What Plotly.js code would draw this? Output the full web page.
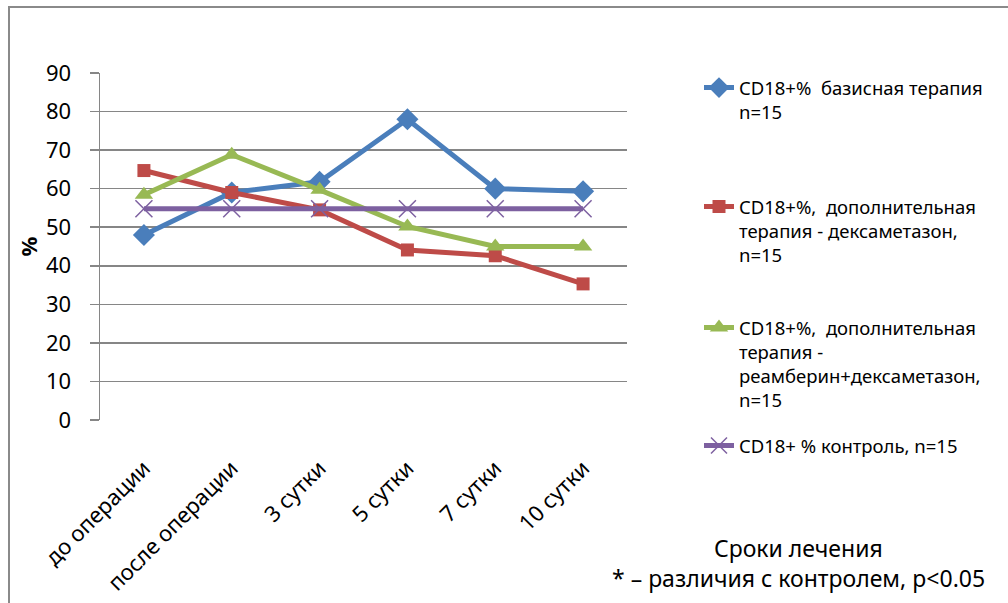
<!DOCTYPE html>
<html><head><meta charset="utf-8">
<script src="https://cdn.plot.ly/plotly-3.0.1.min.js"></script>
<style>html,body{margin:0;padding:0;background:#fff}#chart{width:1008px;height:603px}</style>
</head><body><div id="chart"></div>
<script>
var categories = ['до операции', 'после операции', '3 сутки', '5 сутки', '7 сутки', '10 сутки'];
var basic = [48, 59, 61.8, 78, 60, 59.3];
var dexa = [64.7, 59, 54.5, 44.1, 42.6, 35.3];
var reamb = [58.4, 68.8, 59.7, 50.2, 45, 45];
var control = [54.8, 54.8, 54.8, 54.8, 54.8, 54.8];
var names = [
  'CD18+%  базисная терапия<br>n=15',
  'CD18+%,  дополнительная<br>терапия - дексаметазон,<br>n=15',
  'CD18+%,  дополнительная<br>терапия -<br>реамберин+дексаметазон,<br>n=15',
  'CD18+ % контроль, n=15'
];
var yTicks = [0, 10, 20, 30, 40, 50, 60, 70, 80, 90];

var FONT = 'Noto Sans, Open Sans, sans-serif';
var L = 100, R = 627, T = 73, B = 420;
function px(x){ return (x - L) / (R - L); }
function py(y){ return (B - y) / (B - T); }

var traces = [
  {y: basic, name: names[0], color: '#4A7EBB', symbol: 'diamond', size: 17, legend: 'legend'},
  {y: dexa, name: names[1], color: '#BE4B48', symbol: 'square', size: 13, legend: 'legend2'},
  {y: reamb, name: names[2], color: '#98B954', symbol: 'triangle-up', size: 16, legend: 'legend3'},
  {y: control, name: names[3], color: '#7D60A0', symbol: 'x-thin-open', size: 17, legend: 'legend4'}
].map(function(s){
  return {
    type: 'scatter', mode: 'lines+markers', x: categories, y: s.y, name: s.name,
    legend: s.legend,
    line: {color: s.color, width: 5},
    marker: {symbol: s.symbol, size: s.size, color: s.color, line: {color: s.color, width: s.symbol === 'x-thin-open' ? 1.5 : 0}}
  };
});
var legFont = {family: FONT, size: 18.5, color: '#000'};
function leg(ytop){
  return {x: px(699), xanchor: 'left', y: py(ytop), yanchor: 'top', font: legFont,
          bgcolor: 'rgba(0,0,0,0)', valign: 'top', itemwidth: 30, tracegroupgap: 0};
}
var layout = {
  width: 1008, height: 603,
  margin: {l: L, r: 1008 - R, t: T, b: 603 - B},
  paper_bgcolor: '#fff', plot_bgcolor: '#fff',
  font: {family: FONT, color: '#000'},
  showlegend: true,
  legend: leg(69), legend2: leg(188), legend3: leg(309), legend4: leg(427),
  xaxis: {
    type: 'category', range: [-0.5, 5.5], tickangle: -45, showgrid: false,
    tickfont: {family: FONT, size: 22, color: '#000'}, ticks: '', showline: false, zeroline: false,
    ticklabelstandoff: 30, fixedrange: true
  },
  yaxis: {
    range: [0, 90], tickvals: yTicks, ticktext: yTicks.map(String),
    showgrid: true, gridcolor: '#868686', gridwidth: 1.5,
    showline: true, linecolor: '#868686', linewidth: 1.5,
    ticks: 'outside', ticklen: 9, tickcolor: '#868686', tickwidth: 1.5,
    tickfont: {family: FONT, size: 22, color: '#000'}, ticklabelstandoff: 14,
    zeroline: false,
    title: {text: '<b>%</b>', font: {family: FONT, size: 22, color: '#000'}, standoff: 2},
    fixedrange: true
  },
  shapes: [
    {type: 'rect', xref: 'paper', yref: 'paper', x0: px(9), x1: px(1100), y0: py(700), y1: py(7),
     line: {color: '#8a8a8a', width: 2}, fillcolor: 'rgba(0,0,0,0)', layer: 'below'}
  ],
  annotations: [
    {xref: 'paper', yref: 'paper', x: px(798), y: py(548), text: 'Сроки лечения', showarrow: false,
     font: {family: FONT, size: 23, color: '#000'}, xanchor: 'center', yanchor: 'middle'},
    {xref: 'paper', yref: 'paper', x: px(798), y: py(578), text: '* – различия с контролем, p<0.05', showarrow: false,
     font: {family: FONT, size: 23, color: '#000'}, xanchor: 'center', yanchor: 'middle'}
  ]
};
Plotly.newPlot('chart', traces, layout, {displayModeBar: false, staticPlot: true});
</script></body></html>
